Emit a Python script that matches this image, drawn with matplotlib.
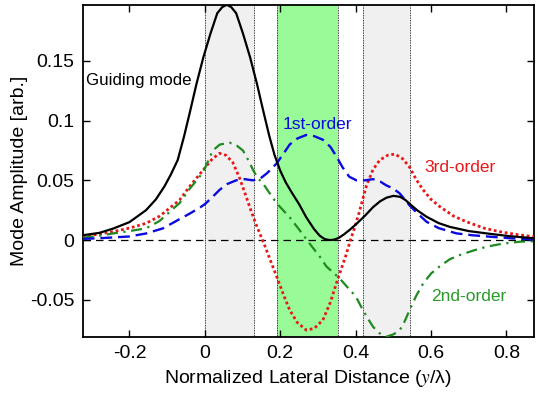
#!/usr/bin/env python3
"""Mode amplitude profiles across the normalized lateral distance."""
import matplotlib
matplotlib.use("Agg")
import matplotlib.pyplot as plt

plt.rcParams['font.family'] = ['Liberation Sans', 'DejaVu Sans']
plt.rcParams['mathtext.fontset'] = 'stix'

# shaded bands (normalized lateral distance)
gray_bands = [(0.0, 0.13), (0.42, 0.545)]
green_band = (0.192, 0.353)

# guiding mode (black solid)
guide_x = [-0.324, -0.28, -0.244, -0.2, -0.156, -0.13, -0.107, -0.09, -0.072,
           -0.055, -0.039, -0.022, -0.004, 0.015, 0.033, 0.046, 0.058, 0.070,
           0.083, 0.101, 0.120, 0.138, 0.155, 0.171, 0.185, 0.2, 0.215, 0.232,
           0.25, 0.269, 0.29, 0.305, 0.318, 0.33, 0.343, 0.355, 0.368, 0.384,
           0.402, 0.425, 0.446, 0.465, 0.482, 0.5, 0.518, 0.532, 0.548, 0.565,
           0.588, 0.62, 0.65, 0.7, 0.756, 0.81, 0.873]
guide_y = [0.004, 0.006, 0.0095, 0.015, 0.025, 0.034, 0.045, 0.055, 0.067,
           0.087, 0.108, 0.131, 0.153, 0.173, 0.190, 0.195, 0.197, 0.195,
           0.190, 0.173, 0.153, 0.131, 0.108, 0.087, 0.071, 0.058, 0.048, 0.039,
           0.030, 0.019, 0.009, 0.0035, 0.0008, 0.0, 0.0003, 0.0018, 0.0045, 0.0085,
           0.0135, 0.0205, 0.0275, 0.0325, 0.0355, 0.037, 0.0362, 0.0335, 0.029, 0.0245,
           0.0195, 0.0142, 0.011, 0.0075, 0.0052, 0.0032, 0.0015]

# 1st-order (blue dashed)
first_x = [-0.324, -0.28, -0.2, -0.156, -0.111, -0.07, -0.041, -0.014, 0.0, 0.02,
           0.039, 0.06, 0.083, 0.105, 0.127, 0.145, 0.165, 0.19, 0.21, 0.225,
           0.245, 0.269, 0.29, 0.313, 0.333, 0.349, 0.365, 0.383, 0.402, 0.425,
           0.446, 0.465, 0.48, 0.5, 0.517, 0.53, 0.543, 0.565, 0.588, 0.62,
           0.667, 0.71, 0.756, 0.81, 0.873]
first_y = [0.001, 0.0015, 0.003, 0.0055, 0.0098, 0.017, 0.022, 0.027, 0.030, 0.036,
           0.042, 0.047, 0.050, 0.051, 0.050, 0.051, 0.056, 0.064, 0.073, 0.080,
           0.085, 0.088, 0.087, 0.084, 0.078, 0.070, 0.061, 0.053, 0.050, 0.050,
           0.051, 0.049, 0.046, 0.043, 0.039, 0.034, 0.029, 0.022, 0.0153, 0.010,
           0.0056, 0.004, 0.0028, 0.0015, 0.0005]

# 2nd-order (green dash-dot)
second_x = [-0.324, -0.28, -0.244, -0.2, -0.156, -0.12, -0.067, -0.04, -0.014, 0.0,
            0.021, 0.04, 0.066, 0.085, 0.101, 0.115, 0.128, 0.14, 0.154, 0.17,
            0.19, 0.225, 0.252, 0.278, 0.305, 0.322, 0.357, 0.393, 0.405, 0.419,
            0.433, 0.446, 0.463, 0.481, 0.5, 0.517, 0.53, 0.543, 0.56, 0.579,
            0.6, 0.623, 0.65, 0.676, 0.71, 0.747, 0.79, 0.835, 0.873]
second_y = [0.002, 0.0035, 0.0055, 0.0075, 0.0098, 0.016, 0.031, 0.043, 0.053, 0.060,
            0.075, 0.080, 0.0815, 0.079, 0.075, 0.067, 0.0586, 0.052, 0.0475, 0.040,
            0.031, 0.019, 0.008, -0.003, -0.014, -0.022, -0.032, -0.0447, -0.050, -0.0586,
            -0.066, -0.0726, -0.078, -0.081, -0.079, -0.0754, -0.068, -0.0586, -0.047, -0.0363,
            -0.028, -0.022, -0.016, -0.0126, -0.009, -0.0056, -0.003, -0.0014, -0.001]

# 3rd-order (red dotted)
third_x = [-0.324, -0.28, -0.244, -0.2, -0.156, -0.12, -0.067, -0.04, -0.014, 0.004,
           0.02, 0.039, 0.056, 0.074, 0.092, 0.11, 0.123, 0.136, 0.145, 0.158,
           0.175, 0.194, 0.21, 0.225, 0.245, 0.269, 0.29, 0.313, 0.333, 0.349,
           0.362, 0.375, 0.386, 0.397, 0.41, 0.428, 0.446, 0.464, 0.485, 0.504,
           0.525, 0.543, 0.56, 0.579, 0.6, 0.623, 0.66, 0.694, 0.74, 0.782, 0.83, 0.873]
third_y = [0.003, 0.005, 0.007, 0.010, 0.014, 0.020, 0.0335, 0.045, 0.055, 0.062,
           0.068, 0.0726, 0.071, 0.065, 0.052, 0.036, 0.024, 0.013, 0.006, -0.004,
           -0.018, -0.0335, -0.047, -0.0586, -0.069, -0.0754, -0.074, -0.067, -0.052, -0.036,
           -0.024, -0.012, 0.0, 0.010, 0.024, 0.045, 0.059, 0.067, 0.071, 0.072,
           0.068, 0.061, 0.051, 0.042, 0.034, 0.028, 0.020, 0.0153, 0.010, 0.007, 0.0045, 0.0028]

x_ticks = [-0.2, 0, 0.2, 0.4, 0.6, 0.8]
x_tick_labels = ['-0.2', '0', '0.2', '0.4', '0.6', '0.8']
y_ticks = [-0.05, 0, 0.05, 0.1, 0.15]
y_tick_labels = ['-0.05', '0', '0.05', '0.1', '0.15']

BLUE = '#0a0ae0'
RED = '#e81818'
GREEN = '#1f8a1f'

fig = plt.figure(figsize=(5.38, 3.95), dpi=100)
ax = fig.add_axes([0.1537, 0.1468, 0.8389, 0.8405])

for lo, hi in gray_bands:
    ax.axvspan(lo, hi, color='#f0f0f0', lw=0, zorder=0)
ax.axvspan(*green_band, color='#98fb98', lw=0, zorder=0)
for edge in [gray_bands[0][0], gray_bands[0][1], green_band[0], green_band[1],
             gray_bands[1][0], gray_bands[1][1]]:
    ax.axvline(edge, color='k', ls=(0, (1, 1)), lw=0.6, zorder=1)

ax.axhline(0, color='k', ls=(0, (6, 4)), lw=0.9, zorder=2)

ax.plot(third_x, third_y, color=RED, ls=(0, (1, 1)), lw=2.0, zorder=3)
ax.plot(second_x, second_y, color=GREEN, ls=(0, (5, 2.5, 1, 2.5)), lw=1.6, zorder=3)
ax.plot(first_x, first_y, color=BLUE, ls=(0, (5, 2.5)), lw=1.7, zorder=3)
ax.plot(guide_x, guide_y, color='k', lw=1.6, zorder=4)

ax.text(-0.314, 0.134, 'Guiding mode', fontsize=12.2, color='k', va='center')
ax.text(0.206, 0.097, '1st-order', fontsize=12.5, color=BLUE, va='center')
ax.text(0.583, 0.061, '3rd-order', fontsize=12.5, color=RED, va='center')
ax.text(0.601, -0.047, '2nd-order', fontsize=12.5, color='#2a9a2a', va='center')

ax.set_xlim(-0.324, 0.873)
ax.set_ylim(-0.0812, 0.1968)
ax.set_xticks(x_ticks)
ax.set_xticklabels(x_tick_labels)
ax.set_yticks(y_ticks)
ax.set_yticklabels(y_tick_labels)
ax.tick_params(direction='in', top=True, right=True, length=5, width=1,
               labelsize=14, pad=6)
for sp in ax.spines.values():
    sp.set_linewidth(1.3)

ax.set_xlabel(r'Normalized Lateral Distance ($y$/λ)', fontsize=14, labelpad=4)
ax.set_ylabel('Mode Amplitude [arb.]', fontsize=14, labelpad=1)

plt.savefig('out.png', dpi=100)
plt.close()
